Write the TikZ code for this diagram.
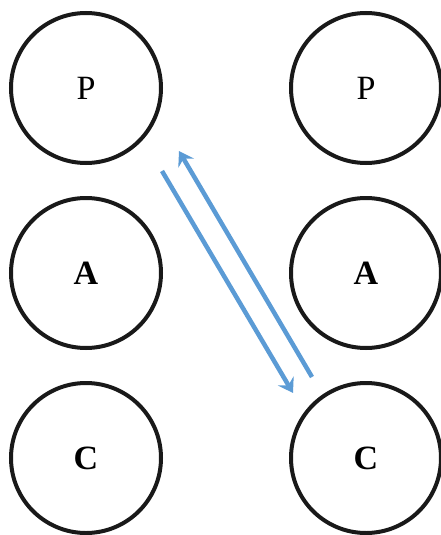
\documentclass[tikz,border=0pt]{standalone}
\usepackage{fontspec}
\setmainfont{Liberation Serif}
\usetikzlibrary{arrows.meta}
\definecolor{arrowblue}{HTML}{5B9BD5}
\begin{document}
\begin{tikzpicture}[x=1pt,y=-1pt,
  circ/.style={circle,draw=black!90,line width=4pt,minimum size=150pt,inner sep=0pt,font=\fontsize{34}{34}\selectfont},
  flow/.style={draw=arrowblue,line width=4.5pt,-{Stealth[length=14pt,width=18pt,inset=5pt]}}]
\useasboundingbox (0,0) rectangle (440,535);
\node[circ] (p1) at (86,88) {P};
\node[circ] (a1) at (86,273) {\textbf{A}};
\node[circ] (c1) at (86,458) {\textbf{C}};
\node[circ] (p2) at (366,88) {P};
\node[circ] (a2) at (366,273) {\textbf{A}};
\node[circ] (c2) at (366,458) {\textbf{C}};
\coordinate (s1) at (162,171);
\coordinate (e1) at (293,393);
\coordinate (s2) at (312,377);
\coordinate (e2) at (179,151);
\draw[flow] (s1) -- (e1);
\draw[flow] (s2) -- (e2);
\end{tikzpicture}
\end{document}
